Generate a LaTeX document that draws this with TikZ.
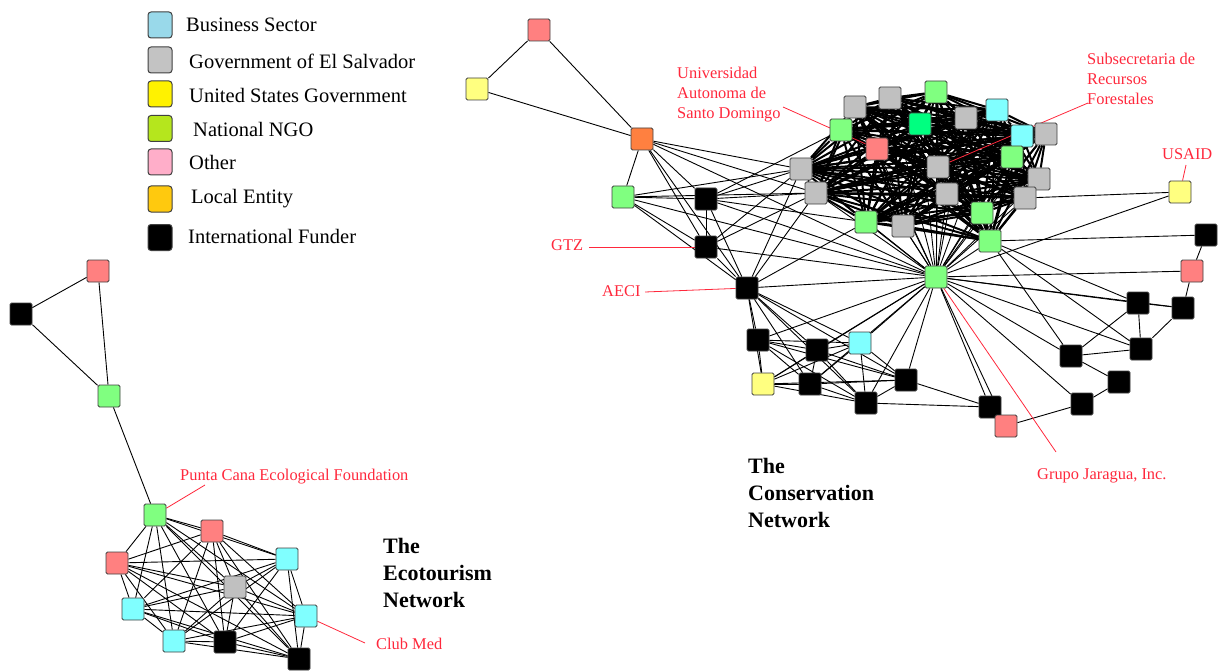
\documentclass[tikz,border=0pt]{standalone}
\usepackage{fontspec}
\setmainfont{Liberation Serif}
\usetikzlibrary{backgrounds}

\definecolor{bizkey}{RGB}{153,217,234}
\definecolor{govkey}{RGB}{195,195,195}
\definecolor{usgkey}{RGB}{255,242,0}
\definecolor{ngokey}{RGB}{181,230,29}
\definecolor{othkey}{RGB}{255,174,201}
\definecolor{lockey}{RGB}{255,201,14}
\definecolor{bizc}{RGB}{128,255,255}
\definecolor{govc}{RGB}{192,192,192}
\definecolor{usgc}{RGB}{255,255,128}
\definecolor{ngoc}{RGB}{128,255,128}
\definecolor{ngoxc}{RGB}{0,255,128}
\definecolor{othc}{RGB}{255,128,128}
\definecolor{locc}{RGB}{255,128,64}
\definecolor{lblred}{RGB}{255,40,60}

\tikzset{
  nd/.style={draw=black!75, line width=0.8pt, rounded corners=1.5pt,
    minimum width=22pt, minimum height=22pt, inner sep=0pt},
  biz/.style={nd, fill=bizc},
  gov/.style={nd, fill=govc},
  usg/.style={nd, fill=usgc},
  ngo/.style={nd, fill=ngoc},
  ngox/.style={nd, fill=ngoxc},
  oth/.style={nd, fill=othc},
  loc/.style={nd, fill=locc},
  fund/.style={nd, fill=black},
  keybox/.style={draw=black!75, line width=1pt, rounded corners=3pt,
    minimum width=24pt, minimum height=26pt, inner sep=0pt},
  keytxt/.style={anchor=base west, inner sep=0pt, font=\fontsize{20.5}{24}\selectfont},
  link/.style={line width=0.9pt},
  denselink/.style={line width=2pt},
  lead/.style={draw=lblred, line width=0.8pt},
  lbl/.style={text=lblred, inner sep=0pt, font=\fontsize{16.4}{20}\selectfont},
  title/.style={anchor=north west, inner sep=0pt, align=left,
    font=\bfseries\fontsize{22}{27}\selectfont},
}

\begin{document}
\begin{tikzpicture}[x=1pt, y=-1pt]
    \useasboundingbox (0,0) rectangle (1225,671);

    % legend
    \node[keybox, fill=bizkey] (k1) at (160,25) {};
    \node[keybox, fill=govkey] (k2) at (160,60) {};
    \node[keybox, fill=usgkey] (k3) at (160,94) {};
    \node[keybox, fill=ngokey] (k4) at (160,128.5) {};
    \node[keybox, fill=othkey] (k5) at (160,162) {};
    \node[keybox, fill=lockey] (k6) at (160,199) {};
    \node[keybox, fill=black] (k7) at (160,237.5) {};
    \node[keytxt] (t1) at (186,31.7) {Business Sector};
    \node[keytxt] (t2) at (189,68.3) {Government of El Salvador};
    \node[keytxt] (t3) at (189,102.7) {United States Government};
    \node[keytxt] (t4) at (193,136.7) {National NGO};
    \node[keytxt] (t5) at (189,170) {Other};
    \node[keytxt] (t6) at (191,203.3) {Local Entity};
    \node[keytxt] (t7) at (188,243.3) {International Funder};

    % ecotourism network
    \node[fund] (e1) at (21,314) {};
    \node[oth] (e2) at (98,271) {};
    \node[ngo] (e3) at (109,396) {};
    \node[ngo] (e4) at (155,515) {};
    \node[oth] (e5) at (212,531) {};
    \node[oth] (e6) at (117,563) {};
    \node[biz] (e7) at (287,559) {};
    \node[gov] (e8) at (235,587) {};
    \node[biz] (e9) at (133,609) {};
    \node[biz] (e10) at (306,616) {};
    \node[biz] (e11) at (174,641) {};
    \node[fund] (e12) at (225,642) {};
    \node[fund] (e13) at (299,659) {};

    % conservation network
    \node[oth] (c1) at (539,30) {};
    \node[usg] (c2) at (477,89) {};
    \node[loc] (c3) at (642,139) {};
    \node[ngo] (c4) at (623,197) {};
    \node[fund] (c5) at (706,199) {};
    \node[fund] (c6) at (706,247) {};
    \node[fund] (c7) at (747,288) {};
    \node[gov] (c8) at (855,107) {};
    \node[gov] (c9) at (890,98) {};
    \node[ngo] (c10) at (936,92) {};
    \node[biz] (c11) at (997,110) {};
    \node[gov] (c12) at (966,118) {};
    \node[ngox] (c13) at (920,124) {};
    \node[ngo] (c14) at (841,130) {};
    \node[oth] (c15) at (877,149) {};
    \node[biz] (c16) at (1022,136) {};
    \node[gov] (c17) at (1046,134) {};
    \node[gov] (c18) at (938,167) {};
    \node[ngo] (c19) at (1012,157) {};
    \node[gov] (c20) at (801,169) {};
    \node[gov] (c21) at (816,193) {};
    \node[gov] (c22) at (947,194) {};
    \node[gov] (c23) at (1039,179) {};
    \node[gov] (c24) at (1025,198) {};
    \node[ngo] (c25) at (982,213) {};
    \node[ngo] (c26) at (866,222) {};
    \node[gov] (c27) at (903,226) {};
    \node[ngo] (c28) at (990,241) {};
    \node[ngo] (h) at (936,277) {};
    \node[usg] (u) at (1180,192) {};
    \node[fund] (l1) at (758,340) {};
    \node[fund] (l2) at (817,350) {};
    \node[biz] (l3) at (860,343) {};
    \node[usg] (l4) at (763,384) {};
    \node[fund] (l5) at (810,384) {};
    \node[fund] (l6) at (906,380) {};
    \node[fund] (l7) at (866,403) {};
    \node[fund] (r1) at (1206,235) {};
    \node[oth] (r2) at (1192,271) {};
    \node[fund] (r3) at (1138,303) {};
    \node[fund] (r4) at (1183,308) {};
    \node[fund] (r5) at (1141,349) {};
    \node[fund] (r6) at (1071,356) {};
    \node[fund] (r7) at (1119,382) {};
    \node[fund] (r8) at (1082,404) {};
    \node[fund] (r9) at (990,407) {};
    \node[oth] (r10) at (1006,426) {};

    % titles and labels
    \node[title] (tc) at (748,458) {The\\Conservation\\Network};
    \node[title] (te) at (383,538) {The\\Ecotourism\\Network};
    \node[lbl, anchor=north west, align=left] (luasd) at (677,66.5) {Universidad\\Autonoma de\\Santo Domingo};
    \node[lbl, anchor=north west, align=left] (lsrf) at (1087,52.5) {Subsecretaria de\\Recursos\\Forestales};
    \node[lbl, anchor=base west] (lusaid) at (1162,159.3) {USAID};
    \node[lbl, anchor=base west] (lgtz) at (551,250.7) {GTZ};
    \node[lbl, anchor=base west] (laeci) at (602,296.7) {AECI};
    \node[lbl, anchor=base west] (lgj) at (1037,479.3) {Grupo Jaragua, Inc.};
    \node[lbl, anchor=base west] (lpc) at (180,480.7) {Punta Cana Ecological Foundation};
    \node[lbl, anchor=base west] (lcm) at (376,649.3) {Club Med};
    \coordinate (puasd) at (783,107);
    \coordinate (psrf) at (1088,103);
    \coordinate (pusaid) at (1186,165);
    \coordinate (pgtz) at (589,247);
    \coordinate (paeci) at (645,292);
    \coordinate (pgj) at (1056,452);
    \coordinate (ppc) at (205,485);
    \coordinate (pcm) at (365,643);

    \begin{pgfonlayer}{background}
    % ecotourism links
    \draw[link] (e1) -- (e2) (e1) -- (e3) (e2) -- (e3) (e3) -- (e4);
    \foreach \i in {4,...,13}
        \foreach \j in {4,...,13}
            {\ifnum\j>\i \draw[link] (e\i) -- (e\j); \fi}

    % conservation links
    \draw[link] (c1) -- (c2) (c1) -- (c3) (c2) -- (c3);
    \foreach \a/\b in {c3/c4, c3/c5, c3/c6, c3/c7, c3/c20, c3/c21, c3/h,
        c4/c5, c4/c6, c4/c7, c4/c20, c4/c21, c4/h,
        c5/c6, c5/c7, c5/c20, c5/c21, c5/c14, c5/h, c5/c26,
        c6/c7, c6/c20, c6/c21, c6/h,
        c7/h, c7/c20, c7/c21, c7/c26,
        u/c24, u/h,
        r1/r2, r2/r4, r3/r4, r3/r5, r4/r5, r3/r6, r5/r6, r6/r7, r7/r8,
        r8/r10, c28/r1, c28/r3, c28/r5, c28/r6,
        h/r2, h/r3, h/r4, h/r5, h/r6, h/r8, h/r9, h/r10,
        l7/r9, l6/r9}
        \draw[link] (\a) -- (\b);
    \foreach \i in {8,...,28}
        \foreach \j in {8,...,28}
            {\ifnum\j>\i \draw[denselink] (c\i) -- (c\j); \fi}
    \foreach \i in {8,...,28}
        \draw[link] (h) -- (c\i);
    \foreach \i in {1,...,7}
        \foreach \j in {1,...,7}
            {\ifnum\j>\i \draw[link] (l\i) -- (l\j); \fi}
    \foreach \i in {1,...,7}
        \draw[link] (c7) -- (l\i) (h) -- (l\i);

    % leaders
    \draw[lead] (puasd) -- (c15);
    \draw[lead] (psrf) -- (c18);
    \draw[lead] (pusaid) -- (u);
    \draw[lead] (pgtz) -- (c6);
    \draw[lead] (paeci) -- (c7);
    \draw[lead] (h) -- (pgj);
    \draw[lead] (ppc) -- (e4);
    \draw[lead] (pcm) -- (e10);
    \end{pgfonlayer}
\end{tikzpicture}
\end{document}
